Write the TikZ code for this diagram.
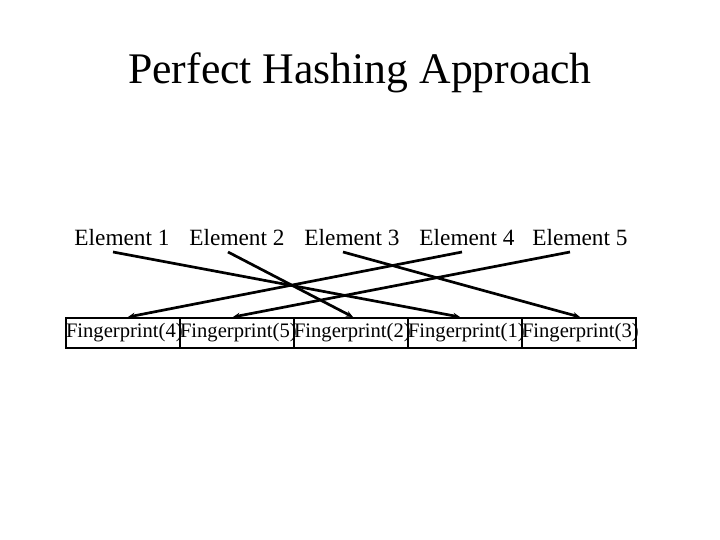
\documentclass[tikz,border=0pt]{standalone}
\usepackage{fontspec}
\setmainfont{Liberation Serif}
\usetikzlibrary{arrows.meta}
\begin{document}
\begin{tikzpicture}[x=1pt,y=-1pt,
  elem/.style={inner sep=0pt,font=\fontsize{23.3}{26}\selectfont},
  fbox/.style={draw,line width=2.6pt,text width=114pt,align=center,minimum height=30pt,inner sep=0pt,font=\fontsize{20.6}{23}\selectfont},
  link/.style={line width=2.7pt,-{Stealth[length=7pt,width=6pt]}}]
\useasboundingbox (0,0) rectangle (720,540);
\node[inner sep=0pt,font=\fontsize{43.7}{48}\selectfont] (title) at (360,73) {Perfect Hashing Approach};
\foreach \i/\x in {1/122,2/237,3/352,4/467,5/580}{
  \node[elem] (e\i) at (\x,238) {Element \i};
}
\node[fbox] (f4) at (123,333) {Fingerprint(4)};
\node[fbox] (f5) at (237,333) {Fingerprint(5)};
\node[fbox] (f2) at (351,333) {Fingerprint(2)};
\node[fbox] (f1) at (465,333) {Fingerprint(1)};
\node[fbox] (f3) at (579,333) {Fingerprint(3)};
\coordinate (s1) at (113,252); \coordinate (t1) at (460,317);
\coordinate (s2) at (228,252); \coordinate (t2) at (353,317);
\coordinate (s3) at (343,252); \coordinate (t3) at (580,317);
\coordinate (s4) at (462,252); \coordinate (t4) at (128,317);
\coordinate (s5) at (570,252); \coordinate (t5) at (233,317);
\foreach \i in {1,...,5}{\draw[link] (s\i) -- (t\i);}
\end{tikzpicture}
\end{document}
